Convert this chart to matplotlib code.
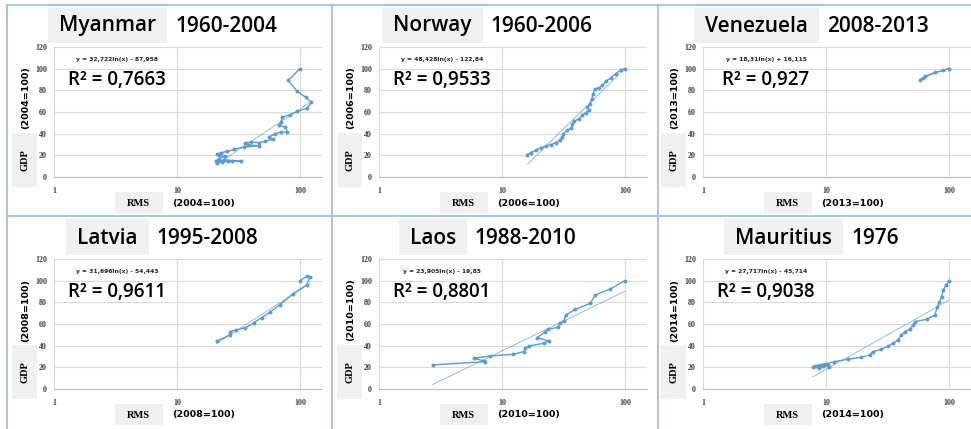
"""2x3 grid of GDP vs RMS log-trend charts (Excel style recreation)."""

import numpy as np
import matplotlib.pyplot as plt
from matplotlib.patches import Rectangle
from matplotlib.lines import Line2D
from matplotlib.ticker import NullLocator

W, H = 971, 429

# ---- data -------------------------------------------------------------
countries = ["Myanmar", "Norway", "Venezuela", "Latvia", "Laos", "Mauritius"]
periods = ["1960-2004", "1960-2006", "2008-2013", "1995-2008", "1988-2010", "1976"]
base_years = ["2004", "2006", "2013", "2008", "2010", "2014"]

myanmar_rms = [21, 24, 28, 33.3, 26.2, 23.4, 20.7, 21.9, 24.6, 21.9, 21, 22.6, 25.6,
               29, 35, 46, 38, 36, 40, 46, 52, 60, 56, 63, 70, 79, 76, 68, 70, 72,
               83, 95, 115, 124, 111, 95, 80, 100]
myanmar_gdp = [13, 16, 15, 14.8, 14.5, 13.8, 14.5, 16.9, 19, 20, 21, 22.2, 23.7,
               25.5, 27.7, 28.6, 29.8, 31.7, 32.3, 31.7, 33, 34.8, 36.9, 40, 41.5,
               41.5, 46, 47.7, 50.8, 55.4, 57.5, 60.6, 63.7, 69, 73.8, 79, 89.2, 100]

norway_rms = [16.1, 17.1, 18.8, 20.6, 22.6, 24.9, 27.3, 29.6, 31, 31.6, 34, 36.6,
              37.3, 38.5, 42.3, 45, 47.9, 51, 49.4, 52, 53.6, 55.3, 56.7, 61.5,
              65.5, 69.7, 76.4, 84, 92.2, 100]
norway_gdp = [20.6, 22.5, 24.6, 27.1, 28.6, 29.8, 31.7, 33.8, 36.9, 40, 43.1, 45.2,
              49.2, 51.4, 53.8, 56.9, 59.4, 61.5, 64.6, 67.7, 72.3, 76.9, 81.5, 82.2,
              84.6, 88.3, 91.4, 95.4, 98.5, 100]

venezuela_rms = [58, 62, 64, 77, 90, 100]
venezuela_gdp = [89.2, 91.7, 92.9, 96.5, 98.5, 100]

latvia_rms = [21, 27, 27, 30, 36, 42, 49, 57, 69, 88, 113, 121, 115, 100]
latvia_gdp = [44, 50, 53, 54.5, 56.5, 61, 66, 71, 78, 88, 96, 103.5, 104.3, 100]

laos_rms = [2.73, 7.3, 7.1, 5.9, 8.0, 12.4, 15, 15.5, 16.5, 21.8, 23.9, 19.3, 22.5,
            23.5, 28.4, 29.4, 31.7, 33.1, 39.4, 52.2, 57.4, 76, 100]
laos_gdp = [22.2, 25.2, 26, 28.3, 30.5, 32, 34.5, 37.5, 39.7, 42.2, 44.3, 47.4, 52.9,
            55, 56.9, 60.6, 62.8, 68.3, 73.5, 79.1, 86.8, 92.3, 100]

mauritius_rms = [7.8, 8.6, 9.4, 8.8, 9.7, 10.3, 10.6, 9.0, 8.2, 11.7, 15, 19.3, 22.6,
                 24, 28.2, 31.9, 35.1, 38.5, 41, 43.6, 48, 51, 52.7, 65.7, 76.9,
                 80.4, 83.4, 87.1, 89.9, 94.5, 100]
mauritius_gdp = [20.6, 20, 21.2, 19.4, 21.8, 22.2, 20.6, 22, 21.3, 25.2, 27.4, 29.2,
                 31.4, 34.5, 36.6, 39.7, 42.2, 45.2, 49.8, 52.9, 55, 59.1, 62.2, 64.3,
                 68.3, 76, 80.6, 85.2, 91.4, 96, 100]

series_rms = [myanmar_rms, norway_rms, venezuela_rms, latvia_rms, laos_rms, mauritius_rms]
series_gdp = [myanmar_gdp, norway_gdp, venezuela_gdp, latvia_gdp, laos_gdp, mauritius_gdp]

# trendline y = a*ln(x) + b, and R^2 as printed on the charts
trend_a = [32.722, 48.428, 18.31, 31.696, 23.905, 27.717]
trend_b = [-87.958, -122.84, 16.115, -54.443, -19.85, -45.714]
equations = ["y = 32,722ln(x) - 87,958", "y = 48,428ln(x) - 122,84",
             "y = 18,31ln(x) + 16,115", "y = 31,696ln(x) - 54,443",
             "y = 23,905ln(x) - 19,85", "y = 27,717ln(x) - 45,714"]
r_squared = ["0,7663", "0,9533", "0,927", "0,9611", "0,8801", "0,9038"]

x_ticks = [1, 10, 100]
y_ticks = [0, 20, 40, 60, 80, 100, 120]

# ---- style ------------------------------------------------------------
BLUE = "#5b9bd5"
GRID = "#d9d9d9"
BOX = "#f0f0f0"
FRAME = "#9dc3e6"

LEFTS = [54, 379, 703]
TOPS = [47, 259]
AW, AH = 268, 130


def fx(px):
    return px / W


def fy(py):
    return 1 - py / H


def gray_box(fig, x0, y0, x1, y1):
    fig.add_artist(Rectangle((fx(x0), fy(y1)), (x1 - x0) / W, (y1 - y0) / H,
                             transform=fig.transFigure, facecolor=BOX,
                             edgecolor="none", zorder=0))


fig = plt.figure(figsize=(W / 100, H / 100), dpi=100)
fig.patch.set_facecolor("white")

titles = []
for i in range(6):
    ox = LEFTS[i % 3]
    oy = TOPS[i // 3]
    ax = fig.add_axes([fx(ox), fy(oy + AH), AW / W, AH / H])

    rms = np.array(series_rms[i])
    gdp = np.array(series_gdp[i])
    xs = np.geomspace(rms.min(), rms.max(), 100)
    ax.plot(xs, trend_a[i] * np.log(xs) + trend_b[i], color=BLUE, lw=0.6,
            alpha=0.75, zorder=2)
    ax.plot(rms, gdp, color=BLUE, lw=1.0, marker="o", ms=1.8, zorder=3)

    ax.set_xscale("log")
    ax.set_xlim(1, 151)
    ax.set_ylim(0, 120)
    ax.xaxis.set_minor_locator(NullLocator())
    ax.set_xticks(x_ticks)
    ax.set_xticklabels([str(t) for t in x_ticks], fontfamily="Liberation Serif",
                       fontweight="bold", fontsize=5.8)
    ax.set_yticks(y_ticks)
    ax.set_yticklabels([str(t) for t in y_ticks], fontfamily="Liberation Serif",
                       fontweight="bold", fontsize=5.8)
    ax.tick_params(length=0, colors="#404040")
    ax.tick_params(axis="x", pad=7)
    ax.tick_params(axis="y", pad=5)
    ax.grid(True, color=GRID, lw=0.8)
    ax.set_axisbelow(True)
    for side in ["top", "right", "left"]:
        ax.spines[side].set_visible(False)
    ax.spines["bottom"].set_color("#bfbfbf")
    ax.spines["bottom"].set_linewidth(0.8)

    # equation and R^2
    ax.text(63 / AW, (AH - 13) / AH, equations[i], transform=ax.transAxes,
            ha="center", va="center", fontsize=4.3, fontweight="bold",
            family="DejaVu Sans", color="#222")
    ax.text(63 / AW, (AH - 38) / AH, "R² = " + r_squared[i], transform=ax.transAxes,
            ha="center", va="baseline", fontsize=13.5, fontweight="semibold",
            family="Open Sans", color="black")

    label = f"({base_years[i]}=100)"
    # y labels
    fig.text(fx(ox - 28), fy(oy + 51), label, rotation=90, ha="center",
             va="center", family="DejaVu Sans", weight="bold", size=6.8)
    gray_box(fig, ox - 42, oy + 86, ox - 17, oy + 140)
    fig.text(fx(ox - 29), fy(oy + 113), "GDP", rotation=90, ha="center",
             va="center", family="Liberation Serif", weight="bold", size=7.5)
    # x labels
    gray_box(fig, ox + 61, oy + 145, ox + 109, oy + 166)
    fig.text(fx(ox + 84), fy(oy + 156), "RMS", ha="center", va="center",
             family="Liberation Serif", weight="bold", size=7.5)
    fig.text(fx(ox + 150), fy(oy + 156), label, ha="center", va="center",
             family="DejaVu Sans", weight="bold", size=6.8)

    # title (placed after measuring)
    t_name = fig.text(0, fy(oy - 15.5), countries[i], ha="left", va="baseline",
                      family="Open Sans", weight="semibold", size=15)
    t_year = fig.text(0, fy(oy - 15.5), periods[i], ha="left", va="baseline",
                      family="Open Sans", weight="semibold", size=15)
    titles.append((t_name, t_year, ox, oy))

fig.canvas.draw()
renderer = fig.canvas.get_renderer()
for t_name, t_year, ox, oy in titles:
    wn = t_name.get_window_extent(renderer).width
    wy = t_year.get_window_extent(renderer).width
    gap = 19
    x0 = ox + 114 - (wn + gap + wy) / 2
    t_name.set_x(fx(x0))
    t_year.set_x(fx(x0 + wn + gap))
    gray_box(fig, x0 - 11, oy - 40, x0 + wn + 11, oy - 4)

# light blue frame lines between the charts
for y in [5, 216.5]:
    fig.add_artist(Line2D([fx(7), fx(971)], [fy(y), fy(y)], color=FRAME, lw=1.3,
                          transform=fig.transFigure))
for x in [7, 332, 657.5]:
    fig.add_artist(Line2D([fx(x), fx(x)], [fy(5), fy(429)], color=FRAME, lw=1.3,
                          transform=fig.transFigure))

fig.savefig("out.png", dpi=100)
